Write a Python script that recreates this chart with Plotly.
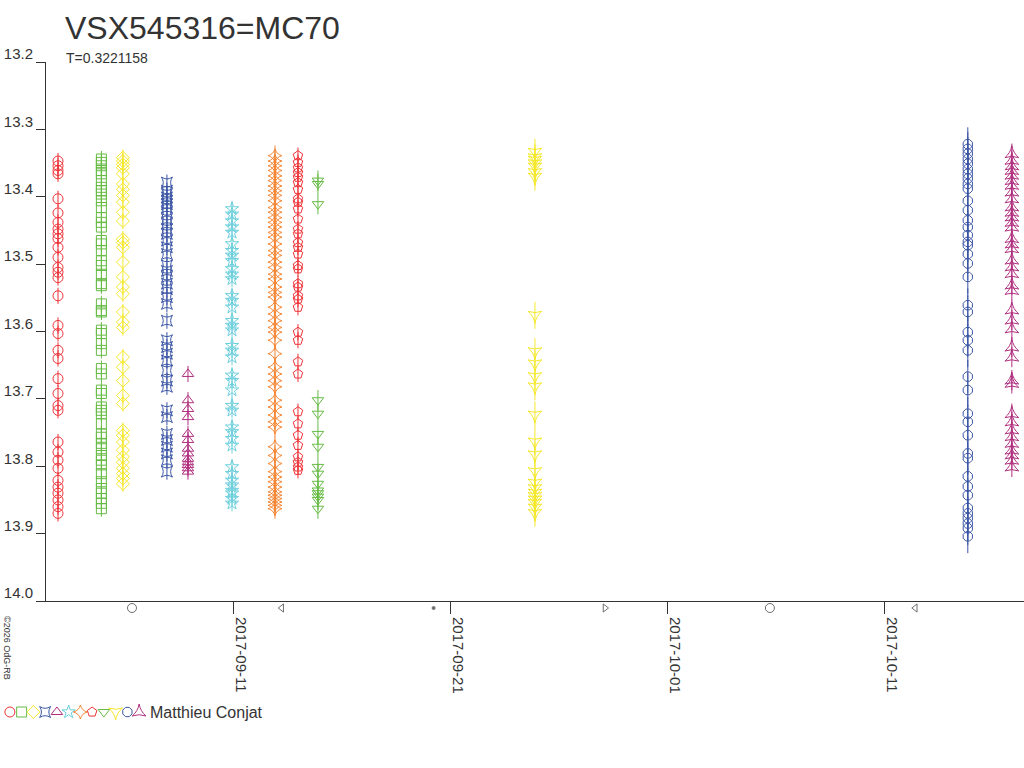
import pandas as pd
import plotly.graph_objects as go

# VSX545316=MC70 light curve, observer Matthieu Conjat
T0 = pd.Timestamp("2017-09-01")

# observing nights, days after 2017-09-01
night_days = [1.89, 3.89, 4.88, 6.91, 7.88, 9.91, 11.89, 12.95, 13.87, 23.87, 43.82, 45.85]

mag_n1 = [13.347, 13.354, 13.361, 13.366, 13.403, 13.424, 13.438, 13.448, 13.455, 13.462,
          13.475, 13.490, 13.505, 13.512, 13.520, 13.547, 13.591, 13.603, 13.628, 13.640,
          13.670, 13.692, 13.710, 13.717, 13.764, 13.779, 13.791, 13.803, 13.821, 13.831,
          13.840, 13.850, 13.860, 13.870]
mag_n2 = [13.344, 13.349, 13.354, 13.361, 13.366, 13.376, 13.386, 13.391, 13.396, 13.406,
          13.416, 13.431, 13.438, 13.445, 13.465, 13.470, 13.480, 13.495, 13.502, 13.515,
          13.529, 13.532, 13.559, 13.569, 13.571, 13.598, 13.603, 13.618, 13.628, 13.655,
          13.663, 13.687, 13.692, 13.712, 13.717, 13.722, 13.737, 13.752, 13.757, 13.766,
          13.774, 13.784, 13.791, 13.798, 13.811, 13.823, 13.833, 13.840, 13.848, 13.855, 13.863]
mag_n3 = [13.342, 13.347, 13.352, 13.357, 13.366, 13.381, 13.389, 13.398, 13.408, 13.423,
          13.436, 13.463, 13.468, 13.475, 13.497, 13.519, 13.534, 13.544, 13.571, 13.586,
          13.594, 13.638, 13.653, 13.673, 13.695, 13.707, 13.747, 13.754, 13.764, 13.776,
          13.786, 13.794, 13.803, 13.811, 13.818, 13.826]
mag_n4 = [13.379, 13.391, 13.396, 13.401, 13.406, 13.411, 13.416, 13.423, 13.433, 13.440,
          13.448, 13.455, 13.465, 13.475, 13.485, 13.502, 13.510, 13.519, 13.529, 13.537,
          13.549, 13.559, 13.584, 13.613, 13.623, 13.633, 13.643, 13.658, 13.673, 13.682,
          13.717, 13.727, 13.752, 13.761, 13.771, 13.781, 13.791, 13.808]
mag_n5 = [13.663, 13.702, 13.715, 13.727, 13.752, 13.761, 13.774, 13.781, 13.789, 13.794,
          13.798, 13.803, 13.808]
mag_n6 = [13.418, 13.426, 13.436, 13.445, 13.453, 13.470, 13.480, 13.487, 13.495, 13.507,
          13.515, 13.522, 13.547, 13.554, 13.564, 13.584, 13.591, 13.598, 13.621, 13.628,
          13.638, 13.665, 13.673, 13.687, 13.710, 13.717, 13.742, 13.749, 13.759, 13.769,
          13.801, 13.811, 13.821, 13.828, 13.836, 13.840, 13.848, 13.855]
mag_n7 = [13.339, 13.347, 13.354, 13.361, 13.369, 13.376, 13.384, 13.391, 13.398, 13.406,
          13.416, 13.423, 13.431, 13.438, 13.445, 13.453, 13.460, 13.470, 13.480, 13.487,
          13.497, 13.505, 13.515, 13.522, 13.534, 13.542, 13.549, 13.564, 13.574, 13.584,
          13.594, 13.601, 13.613, 13.633, 13.653, 13.663, 13.673, 13.682, 13.702, 13.712,
          13.724, 13.734, 13.742, 13.771, 13.784, 13.796, 13.808, 13.816, 13.823, 13.831,
          13.838, 13.843, 13.848, 13.853, 13.858, 13.863]
mag_n8 = [13.339, 13.349, 13.357, 13.364, 13.371, 13.379, 13.389, 13.403, 13.408, 13.418,
          13.433, 13.448, 13.455, 13.468, 13.475, 13.485, 13.502, 13.507, 13.529, 13.534,
          13.547, 13.552, 13.564, 13.601, 13.613, 13.645, 13.663, 13.719, 13.737, 13.754,
          13.769, 13.786, 13.794, 13.801, 13.806]
mag_n9 = [13.376, 13.381, 13.411, 13.702, 13.722, 13.752, 13.771, 13.801, 13.811, 13.826,
          13.836, 13.840, 13.845, 13.850, 13.863]
mag_n10 = [13.334, 13.342, 13.346, 13.351, 13.356, 13.364, 13.371, 13.576, 13.630, 13.648,
           13.667, 13.682, 13.724, 13.764, 13.783, 13.808, 13.825, 13.833, 13.840, 13.845,
           13.850, 13.855, 13.862, 13.870]
mag_n11 = [13.322, 13.329, 13.336, 13.344, 13.351, 13.359, 13.366, 13.373, 13.381, 13.388,
           13.406, 13.420, 13.435, 13.445, 13.457, 13.467, 13.472, 13.485, 13.499, 13.519,
           13.561, 13.571, 13.601, 13.613, 13.628, 13.667, 13.687, 13.722, 13.734, 13.754,
           13.781, 13.788, 13.815, 13.830, 13.843, 13.862, 13.870, 13.877, 13.885, 13.892, 13.904]
mag_n12 = [13.336, 13.346, 13.354, 13.361, 13.368, 13.376, 13.383, 13.393, 13.403, 13.415,
           13.423, 13.430, 13.438, 13.445, 13.462, 13.470, 13.477, 13.494, 13.504, 13.514,
           13.531, 13.539, 13.568, 13.583, 13.596, 13.623, 13.638, 13.672, 13.677, 13.722,
           13.734, 13.746, 13.756, 13.766, 13.776, 13.783, 13.791, 13.801]
night_mags = [mag_n1, mag_n2, mag_n3, mag_n4, mag_n5, mag_n6, mag_n7, mag_n8, mag_n9,
              mag_n10, mag_n11, mag_n12]
night_err = [0.012, 0.012, 0.012, 0.012, 0.012, 0.012, 0.015, 0.012, 0.015, 0.02, 0.025, 0.015]

symbols = ["circle-open", "square-open", "diamond-open", "star-square-open", "triangle-up-open",
           "star-open", "star-diamond-open", "pentagon-open", "triangle-down-open",
           "star-triangle-down-open", "octagon-open", "star-triangle-up-open"]
colors = ["#ee3338", "#66bb44", "#f5e82a", "#3a55a5", "#b0307f", "#6ccfdc", "#f58634",
          "#ee3338", "#66bb44", "#f5e82a", "#3a55a5", "#b0307f"]

# moon phases (days after 2017-09-01)
moon_days = [5.3, 12.2, 19.2, 27.1, 34.7, 41.4]
moon_symbols = ["circle-open", "triangle-left-open", "circle", "triangle-right-open",
                "circle-open", "triangle-left-open"]
moon_sizes = [9, 7, 3, 7, 9, 7]

x_range_days = [0.876, 46.41]


def to_date(d):
    return T0 + pd.to_timedelta(d, unit="D")


fig = go.Figure()
for i in range(len(night_days)):
    mags = night_mags[i]
    fig.add_trace(go.Scatter(
        x=[to_date(night_days[i])] * len(mags), y=mags, mode="markers",
        marker=dict(symbol=symbols[i], size=10, color=colors[i], line=dict(width=1, color=colors[i])),
        error_y=dict(type="constant", value=night_err[i], color=colors[i], thickness=1, width=0),
        showlegend=False))

# moon phase strip under the time axis
fig.add_trace(go.Scatter(
    x=[to_date(d) for d in moon_days], y=[0.5] * len(moon_days), mode="markers",
    marker=dict(symbol=moon_symbols, size=moon_sizes, color="#333333", line=dict(width=1, color="#333333")),
    xaxis="x", yaxis="y3", cliponaxis=False, showlegend=False))

# legend row
fig.add_trace(go.Scatter(
    x=list(range(len(symbols))), y=[0.5] * len(symbols), mode="markers",
    marker=dict(symbol=symbols, size=10, color=colors, line=dict(width=1, color=colors)),
    xaxis="x2", yaxis="y2", showlegend=False, cliponaxis=False))

fig.update_layout(
    width=1024, height=768, margin=dict(l=0, r=0, t=0, b=0, autoexpand=False),
    paper_bgcolor="white", plot_bgcolor="white",
    font=dict(family="Liberation Sans, Arial, sans-serif", color="#333333", size=15),
    xaxis=dict(domain=[36 / 1024, 1], range=[to_date(x_range_days[0]), to_date(x_range_days[1])],
               type="date", tick0="2017-09-11", dtick=10 * 86400000, tickformat="%Y-%m-%d",
               tickangle=90, ticks="outside", ticklen=12, tickcolor="#333333",
               showline=True, linecolor="#333333", linewidth=1, showgrid=False, zeroline=False,
               ticklabelshift=7, anchor="y", automargin=False),
    yaxis=dict(domain=[1 - 601 / 768, 1 - 62 / 768], range=[14.0, 13.2], dtick=0.1,
               tick0=13.2, tickformat=".1f", ticks="outside", ticklen=9, tickcolor="#333333",
               showline=True, linecolor="#333333", linewidth=1, showgrid=False, zeroline=False,
               anchor="free", position=45 / 1024, ticklabelshift=8, automargin=False),
    yaxis3=dict(domain=[1 - 614 / 768, 1 - 602 / 768], range=[0, 1], visible=False,
                anchor="x", automargin=False),
    xaxis2=dict(domain=[4 / 1024, 145 / 1024], range=[-0.5, 11.5], visible=False, anchor="y2",
                automargin=False),
    yaxis2=dict(domain=[1 - 722 / 768, 1 - 702 / 768], range=[0, 1], visible=False, anchor="x2",
                automargin=False),
    annotations=[
        dict(text="VSX545316=MC70", x=63 / 1024, y=1 - 28 / 768, xref="paper", yref="paper",
             xanchor="left", yanchor="middle", showarrow=False, font=dict(size=32, color="#333333")),
        dict(text="T=0.3221158", x=64 / 1024, y=1 - 58 / 768, xref="paper", yref="paper",
             xanchor="left", yanchor="middle", showarrow=False, font=dict(size=14, color="#333333")),
        dict(text="Matthieu Conjat", x=148 / 1024, y=1 - 712 / 768, xref="paper", yref="paper",
             xanchor="left", yanchor="middle", showarrow=False, font=dict(size=16, color="#333333")),
        dict(text="©2026 OdG-RB", x=7 / 1024, y=1 - 648 / 768, xref="paper", yref="paper",
             xanchor="center", yanchor="middle", showarrow=False, textangle=90,
             font=dict(size=9, color="#333333")),
    ],
)

fig.write_html("out.html", config={"displayModeBar": False},
               post_script="document.body.style.margin='0';")
